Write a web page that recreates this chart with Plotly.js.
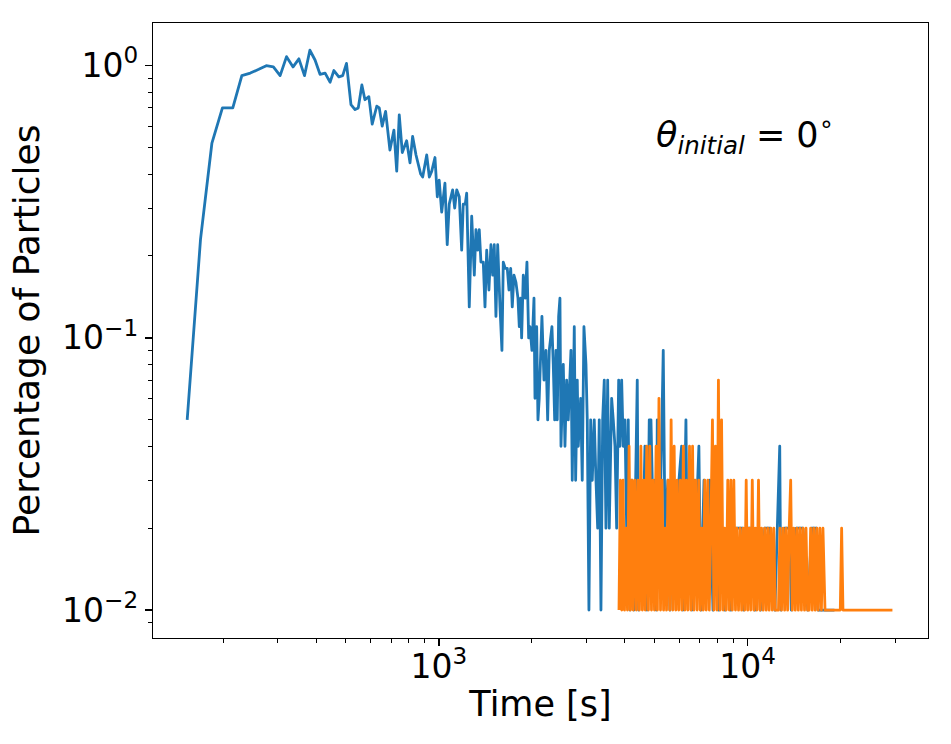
<!DOCTYPE html>
<html>
<head>
<meta charset="utf-8">
<script src="https://cdn.plot.ly/plotly-3.0.1.min.js"></script>
<style>
body { margin: 0; background: #fff; }
#plot { width: 951px; height: 744px; }
.js-line { stroke-linejoin: round; }
</style>
</head>
<body>
<div id="plot"></div>
<script>
// Arrival time of particles (s) and share of particles per time bin (%), first release.
var blueTime = [153,169,184,199,215,230,245,261,276,291,306,321,337,352,367,382,397,412,428,444,
457,474,488,502,519,535,548,563,576,593,608,629,641,655,672,694,715,730,744,761,
786,806,822,843,873,886,913,931,948,971,988,1002,
1021,1046,1064,1080,1108,1125,1142,1164,1185,1199,1217,1230,1254,1277,1302,1318,1335,1351,1368,1392,
1410,1428,1452,1474,1493,1511,1530,1550,1577,1600,1616,1640,1665,1686,1708,1728,1750,1776,1803,1821,
1840,1853,1876,1904,1928,1953,1972,2001,2032,2047,2073,2093,2113,2156,2189,2222,2250,2277,2301,2323,
2346,2371,2394,2417,2442,2466,
2485,2528,2560,2592,2624,2677,2703,2744,2772,2806,2827,2878,2912,2949,2994,3023,3061,3101,3138,3185,
3226,3267,3306,3348,3391,3432,3475,3520,3562,3626,3670,3717,3764,
3821,3858,3907,3954,4004,4055,4104,4156,4219,4282,4337,4389,4435,4512,4590,4648,4718,4800,4861,4945,
5008,5057,5095,5198,5328,5396,5518,5601,5730,5855,5990,6110,6170,6310,6360,6500,6600,6700,6800,6950,
7050,7220,7380,7540,7720,7890,8060,8250,8440,8630,8820,9020,9230,9630,9700,10020,10320,10550,10780,11000,
11360,11800,12250,12700,12810,13170,13700,13840,14380,15100,15660,16120,16720,16880,19100];
var bluePct = [0.05,0.23,0.52,0.70,0.70,0.92,0.94,0.97,1.00,0.99,0.92,1.08,0.99,1.06,0.92,1.14,1.05,0.93,0.94,0.87,
0.96,0.91,0.92,1.02,0.72,0.69,0.70,0.85,0.75,0.77,0.61,0.71,0.70,0.60,0.68,0.49,0.58,0.41,0.66,0.48,
0.53,0.44,0.55,0.47,0.40,0.39,0.47,0.39,0.41,0.46,0.33,0.38,
0.29,0.37,0.22,0.31,0.35,0.30,0.35,0.33,0.21,0.31,0.31,0.34,0.13,0.28,0.17,0.25,0.21,0.25,0.19,0.19,
0.13,0.21,0.15,0.22,0.17,0.22,0.12,0.22,0.13,0.09,0.19,0.18,0.18,0.15,0.18,0.13,0.17,0.16,0.14,0.11,
0.14,0.10,0.17,0.14,0.19,0.10,0.11,0.09,0.14,0.06,0.11,0.05,0.06,0.12,0.07,0.09,0.05,0.09,0.10,0.11,
0.08,0.05,0.09,0.05,0.12,0.14,
0.04,0.08,0.04,0.07,0.05,0.09,0.03,0.11,0.03,0.07,0.04,0.06,0.03,0.11,0.08,0.05,0.01,0.05,0.03,0.05,
0.03,0.02,0.05,0.01,0.05,0.07,0.02,0.07,0.02,0.06,0.05,0.04,0.02,
0.07,0.04,0.07,0.04,0.05,0.02,0.05,0.01,0.03,0.01,0.03,0.07,0.01,0.03,0.02,0.04,0.01,0.05,0.05,0.02,
0.03,0.01,0.05,0.02,0.09,0.02,0.03,0.01,0.03,0.02,0.03,0.04,0.01,0.05,0.02,0.03,0.01,0.03,0.02,0.04,
0.01,0.03,0.02,0.03,0.01,0.02,0.01,0.02,0.01,0.02,0.01,0.02,0.02,0.02,0.01,0.02,0.02,0.01,0.02,0.01,
0.02,0.02,0.01,0.04,0.01,0.02,0.02,0.01,0.02,0.02,0.01,0.02,0.02,0.01,0.01];

// Second release.
var orangeTime = [3830,3870,3910,3950,3990,4040,4080,4130,4170,4220,
4260,4310,4360,4410,4460,4510,4560,4610,4660,4710,
4770,4820,4880,4930,4990,5050,5100,5160,5220,5280,
5340,5400,5460,5520,5590,5650,5720,5780,5850,5910,
5980,6050,6120,6190,6260,6330,6400,6480,6550,6630,
6700,6780,6860,6940,7020,7100,7180,7260,7340,7430,
7510,7600,7690,7770,7860,7950,8040,8140,8230,8330,
8420,8520,8620,8720,8820,8920,9020,9130,9230,9340,
9450,9560,9670,9780,9890,10000,10120,10230,10350,10470,
10590,10710,10840,10960,11090,11220,11350,11480,11610,11740,
11880,12020,12150,12290,12440,12580,12720,12870,13020,13170,
13320,13470,13630,13780,13940,14100,14260,14430,14590,14760,
14930,15100,15280,15450,15630,15810,15990,16180,16360,16550,
16740,16930,17130,17330,17530,
17800,19950,20150,20350,29430];
var orangePct = [0.01,0.03,0.01,0.03,0.01,0.02,0.01,0.04,0.01,0.03,
0.01,0.03,0.01,0.03,0.01,0.04,0.01,0.03,0.01,0.04,
0.01,0.04,0.01,0.03,0.01,0.04,0.01,0.06,0.01,0.03,
0.01,0.02,0.01,0.03,0.01,0.05,0.01,0.04,0.01,0.03,
0.01,0.03,0.01,0.04,0.01,0.03,0.01,0.04,0.01,0.04,
0.01,0.03,0.01,0.03,0.01,0.02,0.01,0.03,0.01,0.03,
0.01,0.02,0.05,0.01,0.04,0.01,0.07,0.01,0.05,0.01,
0.02,0.01,0.03,0.01,0.03,0.01,0.03,0.01,0.02,0.01,
0.02,0.01,0.02,0.01,0.03,0.01,0.02,0.01,0.03,0.01,
0.02,0.01,0.03,0.01,0.02,0.01,0.02,0.01,0.02,0.01,
0.02,0.01,0.02,0.01,0.01,0.01,0.02,0.01,0.02,0.01,
0.02,0.01,0.02,0.03,0.01,0.02,0.01,0.02,0.01,0.02,
0.01,0.02,0.01,0.02,0.01,0.01,0.02,0.01,0.02,0.01,
0.02,0.01,0.02,0.01,0.02,
0.01,0.01,0.02,0.01,0.01];

var xMajorTicks = [1000, 10000];
var xMajorLabels = ['10<sup>3</sup>', '10<sup>4</sup>'];
var xMinorTicks = [200,300,400,500,600,700,800,900,2000,3000,4000,5000,6000,7000,8000,9000,20000,30000];
var yMajorTicks = [0.01, 0.1, 1];
var yMajorLabels = ['10<sup>\u22122</sup>', '10<sup>\u22121</sup>', '10<sup>0</sup>'];
var yMinorTicks = [0.009,0.02,0.03,0.04,0.05,0.06,0.07,0.08,0.09,0.2,0.3,0.4,0.5,0.6,0.7,0.8,0.9];

var font_family = 'DejaVu Sans, sans-serif';

var traces = [{
  x: blueTime, y: bluePct,
  type: 'scatter', mode: 'lines',
  line: {color: '#1f77b4', width: 2.8, simplify: false},
  showlegend: false
}, {
  x: orangeTime, y: orangePct,
  type: 'scatter', mode: 'lines',
  line: {color: '#ff7f0e', width: 2.8, simplify: false},
  showlegend: false
}];

function axis_style(){
  return {
    type: 'log',
    showgrid: false, zeroline: false,
    showline: true, mirror: true, linecolor: 'black', linewidth: 1.3,
    ticks: 'outside', ticklen: 7, tickwidth: 1.3, tickcolor: 'black',
    tickmode: 'array',
    tickfont: {family: font_family, size: 33, color: 'black'}
  };
}

var xaxis = axis_style();
xaxis.range = [2.074, 4.584];
xaxis.tickvals = xMajorTicks;
xaxis.ticktext = xMajorLabels;
xaxis.ticklabelstandoff = -8;
xaxis.minor = {tickmode: 'array', tickvals: xMinorTicks, ticks: 'outside', ticklen: 4, tickwidth: 1, tickcolor: 'black', showgrid: false};
xaxis.title = {text: 'Time [s]', font: {family: font_family, size: 35, color: 'black'}, standoff: 6};

var yaxis = axis_style();
yaxis.range = [-2.1025, 0.157];
yaxis.tickvals = yMajorTicks;
yaxis.ticktext = yMajorLabels;
yaxis.minor = {tickmode: 'array', tickvals: yMinorTicks, ticks: 'outside', ticklen: 4, tickwidth: 1, tickcolor: 'black', showgrid: false};
yaxis.title = {text: 'Percentage of Particles', font: {family: font_family, size: 36, color: 'black'}, standoff: 11};

var layout = {
  width: 951, height: 744,
  margin: {l: 153, r: 23, t: 23, b: 106},
  paper_bgcolor: 'white', plot_bgcolor: 'white',
  font: {family: font_family, color: 'black'},
  xaxis: xaxis, yaxis: yaxis,
  annotations: [{
    xref: 'paper', yref: 'paper', x: 0.647, y: 0.818,
    xanchor: 'left', yanchor: 'middle', showarrow: false,
    text: '<i>\u03b8</i><sub><i>initial</i></sub> = 0<sup>\u2218</sup>',
    font: {family: font_family, size: 35, color: 'black'}
  }]
};

Plotly.newPlot('plot', traces, layout, {staticPlot: true, displayModeBar: false});
</script>
</body>
</html>
